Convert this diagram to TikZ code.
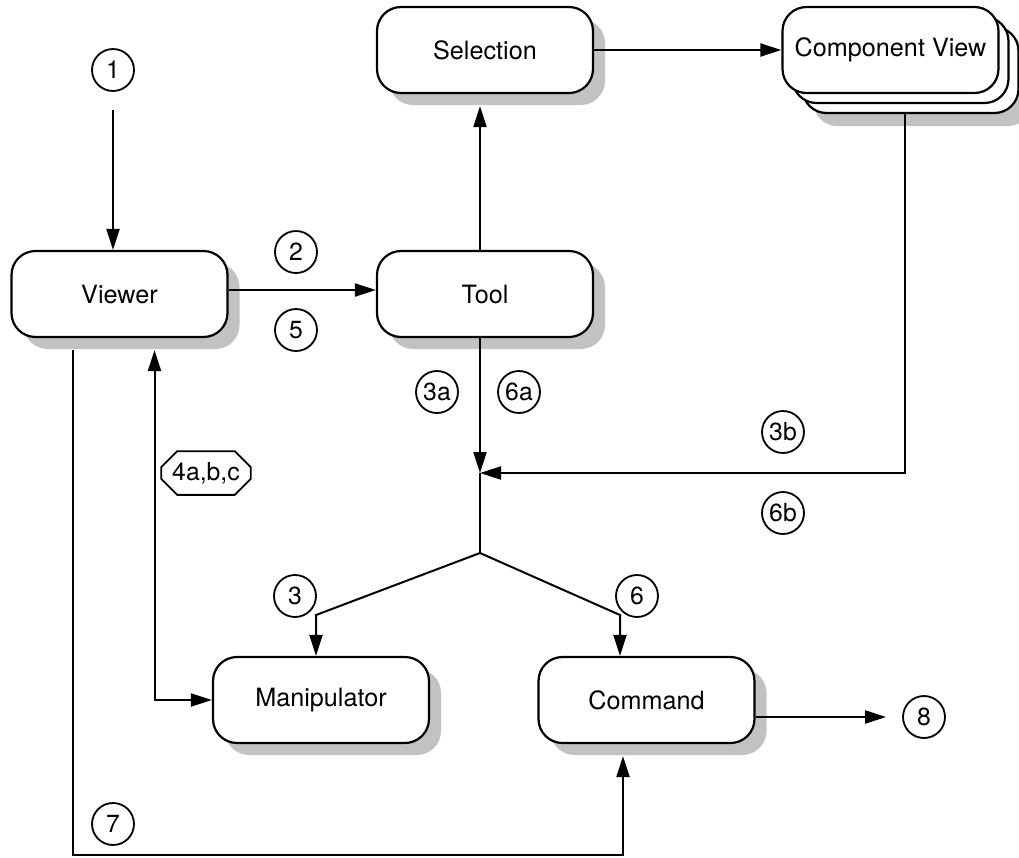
\documentclass[tikz,border=0pt]{standalone}
\usepackage{fontspec}
\setmainfont{TeX Gyre Heros}
\usetikzlibrary{arrows.meta,shadows,shapes.misc,positioning,backgrounds}

\begin{document}
\begin{tikzpicture}[x=0.5pt, y=-0.5pt,
    plain/.style = {draw, line width=1.1pt, rounded corners=12pt, fill=white,
        minimum width=108pt, minimum height=43pt, font=\fontsize{12.6}{14}\selectfont},
    box/.style = {plain, drop shadow={shadow xshift=6pt, shadow yshift=-6pt, fill=black!24, opacity=1}},
    num/.style = {draw, circle, line width=0.9pt, minimum size=21pt, inner sep=0pt,
        font=\fontsize{12.4}{14}\selectfont},
    arr/.style = {line width=1pt, -{Triangle[length=10.5pt, width=6.5pt]}}]
    \useasboundingbox (0,0) rectangle (1019,858);

    % boxes
    \node[box] (viewer) at (119.5,294) {Viewer};
    \node[box] (tool) at (485,294) {Tool};
    \node[box] (sel) at (485,50) {Selection};
    \node[plain,
        copy shadow={shadow xshift=10pt, shadow yshift=-10pt, draw=black, fill=white},
        copy shadow={shadow xshift=5pt, shadow yshift=-5pt, draw=black, fill=white}]
        (cview) at (890.5,50) {Component View};
    \begin{scope}[on background layer]
        \fill[black!24, rounded corners=12pt] ([shift={(16pt,-16pt)}]cview.south west)
            rectangle ([shift={(16pt,-16pt)}]cview.north east);
    \end{scope}
    \node[box] (manip) at (321,700) {Manipulator};
    \node[box] (cmd) at (646.5,700) {Command};

    % step numbers
    \node[num] (n1) at (113,70) {1};
    \node[num] (n2) at (296,252) {2};
    \node[num] (n5) at (296,330) {5};
    \node[num] (n3a) at (437,392) {3a};
    \node[num] (n6a) at (519,392) {6a};
    \node[num] (n3b) at (783,432) {3b};
    \node[num] (n6b) at (783,513) {6b};
    \node[num] (n3) at (295,596) {3};
    \node[num] (n6) at (637,596) {6};
    \node[num] (n7) at (113,824) {7};
    \node[num] (n8) at (924,717) {8};
    \node[draw, chamfered rectangle, chamfered rectangle xsep=4.5pt, line width=0.9pt,
        inner xsep=1pt, inner ysep=2pt, minimum height=20pt,
        font=\fontsize{12.4}{14}\selectfont] (n4) at (206,473) {4a,b,c};

    % junctions
    \coordinate (join) at (480,473);
    \coordinate (fork) at (480,553);
    \coordinate (lbend) at (316,615);
    \coordinate (rbend) at (620,615);

    % connectors
    \draw[arr, shorten <=9pt] (n1) -- (n1 |- viewer.north);
    \draw[arr] ([yshift=2pt]viewer.east) -- ([yshift=2pt]tool.west);
    \draw[arr] (tool.north -| join) -- ([yshift=-6pt]sel.south -| join);
    \draw[arr] (sel) -- (cview);
    \draw[arr] (tool.south -| join) -- (join);
    \draw[arr] ([xshift=7.25pt, yshift=-10pt]cview.south) |- (join);
    \draw[line width=1pt] (join) -- (fork);
    \draw[arr] (fork) -- (lbend) -- (lbend |- manip.north);
    \draw[arr] (fork) -- (rbend) -- (rbend |- cmd.north);
    \draw[line width=1pt, {Triangle[length=10.5pt, width=6.5pt]}-{Triangle[length=10.5pt, width=6.5pt]}]
        ([xshift=17.5pt, yshift=-6pt]viewer.south) |- (manip.west);
    \draw[arr] ([xshift=-23.25pt, yshift=-6pt]viewer.south) -- ++(0,505)
        -| ([xshift=-11.75pt, yshift=-6pt]cmd.south);
    \draw[arr, shorten >=8pt] ([yshift=-8.5pt]cmd.east) -- (n8);
\end{tikzpicture}
\end{document}
